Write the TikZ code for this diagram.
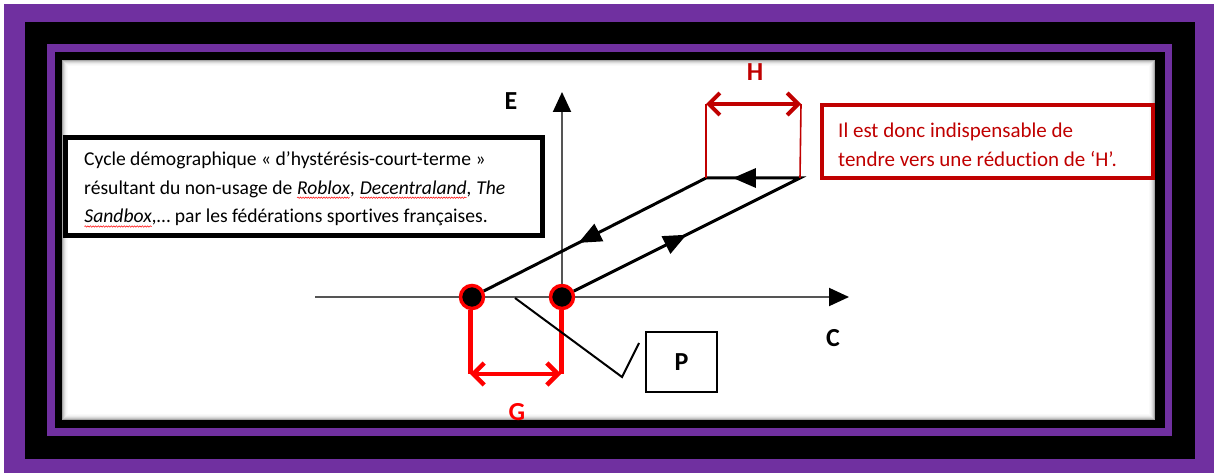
\documentclass[tikz,border=0pt]{standalone}
\usepackage{fontspec}
\setmainfont{Carlito}[Ligatures=NoCommon]
\usetikzlibrary{arrows.meta,decorations.markings,decorations.pathmorphing}
\definecolor{framepurple}{HTML}{7030A0}
\definecolor{hred}{HTML}{C00000}
\definecolor{gred}{HTML}{FF0000}
\definecolor{axisgray}{HTML}{555555}
% red wavy underline as left by a spell checker
\newcommand\spellwave[1]{\tikz[baseline=(sw.base), x=1pt, y=1pt]{%
  \node[inner sep=0pt, outer sep=0pt, anchor=base, align=left] (sw) {#1};%
  \draw[red, line width=0.5pt, decorate, decoration={snake, amplitude=0.7pt, segment length=2.6pt}]
    ([yshift=-3.5pt]sw.base west) -- ([yshift=-3.5pt]sw.base east);}}
\begin{document}
\begin{tikzpicture}[x=1pt,y=-1pt,
  lbl/.style={font=\fontsize{26}{26}\selectfont\bfseries, inner sep=0pt},
  axisline/.style={axisgray, line width=2pt},
  axishead/.style={-{Triangle[length=20pt,width=18pt,color=black]}},
  pt/.style={circle, fill=black, draw=gred, line width=3.5pt, minimum size=23pt, inner sep=0pt},
  loopline/.style={black, line width=3pt, line join=miter},
  gvert/.style={gred, line width=5pt},
  gdim/.style={gred, line width=4.5pt, {Straight Barb[length=11pt,width=22pt]}-{Straight Barb[length=11pt,width=22pt]}},
  hvert/.style={hred, line width=1.6pt},
  hdim/.style={hred, line width=4pt, {Straight Barb[length=11pt,width=22pt]}-{Straight Barb[length=11pt,width=22pt]}},
  leader/.style={black, line width=2pt},
  bodytext/.style={font=\fontsize{19.6}{28.8}\selectfont, inner sep=0pt, align=left},
]
\useasboundingbox (0,0) rectangle (1214,473);

% nested frames
\fill[framepurple] (4,4) rectangle (1214,473);
\fill[black] (25,22) rectangle (1195,459);
\fill[framepurple] (47,44) rectangle (1172,436);
\fill[black] (55,52) rectangle (1165,428);
\fill[white] (62,60) rectangle (1155,420);
% soft inner shadow along the white panel
\foreach \i/\o in {0/0.35,1/0.22,2/0.14,3/0.08,4/0.04,5/0.02}
  \draw[black, opacity=\o, line width=1pt] (62.5+\i,60.5+\i) rectangle (1154.5-\i,419.5-\i);

% description box
\node[draw=black, line width=5pt, fill=white, minimum width=477pt, minimum height=98pt, inner sep=0pt] (descbox) at (304,186.5) {};
\node[bodytext, anchor=west] (desc) at (84,189.5) {Cycle démographique « d’hystérésis-court-terme »\\
résultant du non-usage de \textit{\spellwave{Roblox},} \textit{\spellwave{Decentraland}, The}\\
\textit{\spellwave{Sandbox},}… par les fédérations sportives françaises.};

% remark box
\node[draw=hred, line width=4pt, minimum width=331pt, minimum height=73pt, inner sep=0pt] (notebox) at (987,141.5) {};
\node[bodytext, text=hred, anchor=west, font=\fontsize{21}{29.5}\selectfont] (note) at (838,145) {Il est donc indispensable de\\tendre vers une réduction de ‘H’.};

% key points on the C axis
\node[pt] (L) at (472,297) {};
\node[pt] (R) at (562,297) {};

% axes
\coordinate (Cstart) at (315,297);
\coordinate (Ctip) at (849,297);
\coordinate (Etip) at (562,92);
\draw[axisline] (Cstart) -- (L);
\draw[axisline] (L) -- (R);
\draw[axisline, axishead] (R) -- (Ctip);
\draw[axisline, axishead] (R) -- (Etip);
\node[lbl] (E) at (511,101) {E};
\node[lbl] (C) at (833,338) {C};

% hysteresis loop
\coordinate (TL) at (706,178);
\coordinate (TR) at (800,178);
\draw[loopline, postaction={decorate}, decoration={markings,
    mark=at position 126pt with {\arrow{Triangle[length=23pt,width=19pt]}},
    mark=at position 320pt with {\arrow{Triangle[length=23pt,width=19pt]}},
    mark=at position 490pt with {\arrow{Triangle[length=23pt,width=19pt]}}}]
  (R) -- (TR) -- (TL) -- (L);

% gap G below the axis
\coordinate (GL) at (470,374);
\coordinate (GR) at (561,374);
\draw[gvert] (L.south -| GL) -- (GL);
\draw[gvert] (R.south -| GR) -- (GR);
\draw[gdim] (GL) -- (GR);
\node[lbl, text=gred] (G) at (517,412) {G};

% width H above the loop
\coordinate (HL) at (706,104);
\coordinate (HR) at (801,104);
\draw[hvert] (TL) -- (HL);
\draw[hvert] (TR) -- (HR);
\draw[hdim] (HL) -- (HR);
\node[lbl, text=hred] (H) at (755,72) {H};

% label P with its leader
\node[draw=black, line width=2pt, minimum width=71pt, minimum height=60pt, inner sep=0pt, font=\fontsize{26}{26}\selectfont\bfseries] (P) at (681.5,362) {P};
\coordinate (P1) at (515,298);
\coordinate (P2) at (622,377);
\coordinate (P3) at (639,343);
\draw[leader] (P1) -- (P2) -- (P3);
\end{tikzpicture}
\end{document}
